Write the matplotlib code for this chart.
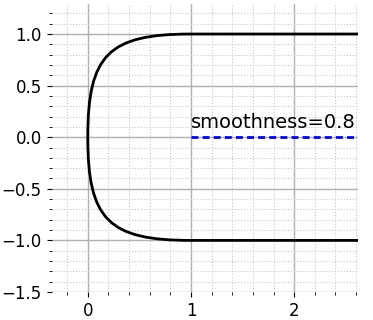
import matplotlib
matplotlib.use("Agg")
import matplotlib.pyplot as plt
from matplotlib.path import Path
from matplotlib.patches import PathPatch
from matplotlib.ticker import MultipleLocator

# rounded outline: straight arms joined by two cubic bezier segments
curve_x = [3.0, 1.0, 0.2, 0.0, 0.0, 0.0, 0.2, 1.0, 3.0]
curve_y = [1.0, 1.0, 1.0, 0.8, 0.0, -0.8, -1.0, -1.0, -1.0]
curve_codes = [Path.MOVETO, Path.LINETO,
               Path.CURVE4, Path.CURVE4, Path.CURVE4,
               Path.CURVE4, Path.CURVE4, Path.CURVE4,
               Path.LINETO]

# centre line
center_x = [1.0, 3.0]
center_y = [0.0, 0.0]

label = 'smoothness=0.8'
label_pos = (1.0, 0.085)

fig = plt.figure(figsize=(3.73, 3.2), dpi=100)
ax = fig.add_axes([0.137, 0.0875, 0.823, 0.9])

path = Path(list(zip(curve_x, curve_y)), curve_codes)
ax.add_patch(PathPatch(path, fill=False, edgecolor='black', lw=2, zorder=3))
ax.plot(center_x, center_y, color='blue', lw=2, dashes=(2.5, 1.5), zorder=3)
ax.text(label_pos[0], label_pos[1], label, fontsize=14, va='baseline', ha='left')

ax.set_xlim(-0.351, 2.615)
ax.set_ylim(-1.5, 1.291)
ax.set_aspect('equal', adjustable='box')

ax.xaxis.set_major_locator(MultipleLocator(1))
ax.xaxis.set_minor_locator(MultipleLocator(0.2))
ax.yaxis.set_major_locator(MultipleLocator(0.5))
ax.yaxis.set_minor_locator(MultipleLocator(0.1))
ax.tick_params(labelsize=12)

ax.grid(which='major', color='#b0b0b0', lw=1)
ax.grid(which='minor', color='#c8c8c8', lw=0.8, linestyle=':')
ax.set_axisbelow(True)

for s in ax.spines.values():
    s.set_visible(False)

fig.savefig('out.png', dpi=100)
